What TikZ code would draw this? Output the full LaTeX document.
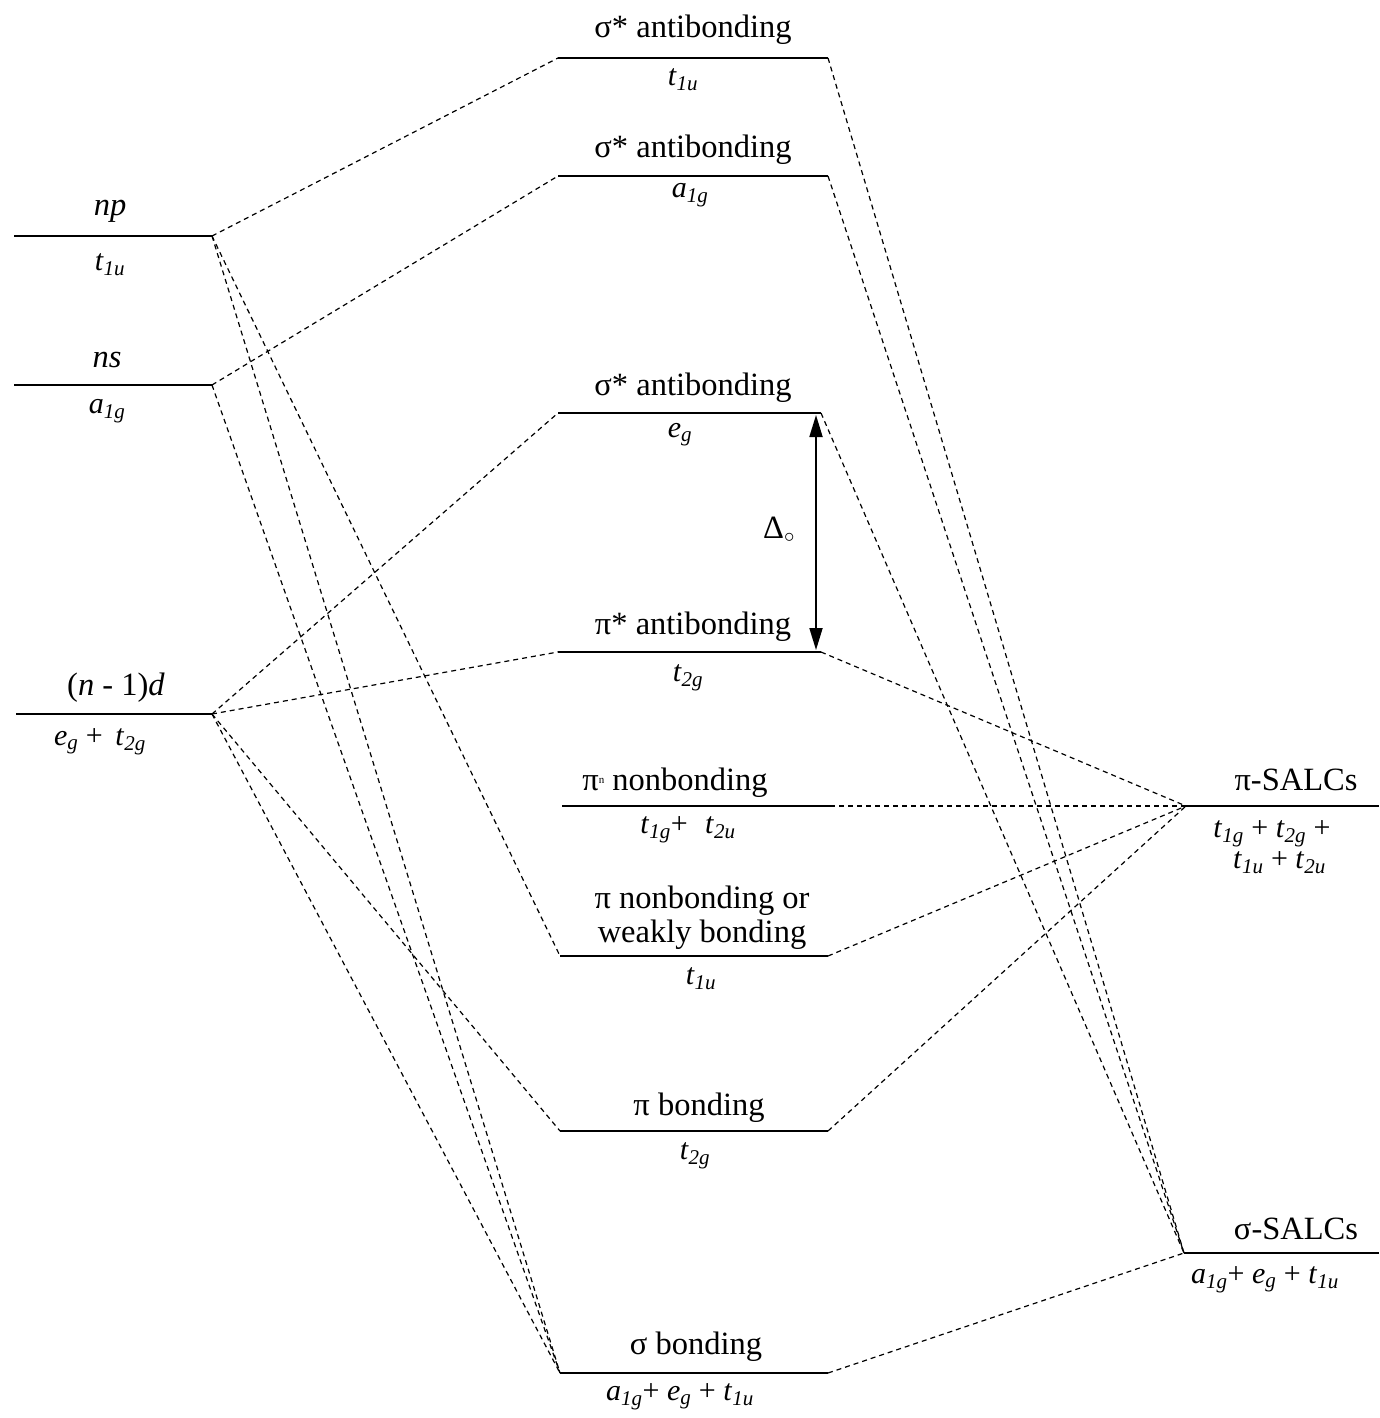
\documentclass[tikz,border=0pt]{standalone}
\usepackage{fontspec}
\setmainfont{Liberation Serif}
\usetikzlibrary{arrows.meta}
\newcommand\irr[2]{\textit{#1}\textsubscript{\textit{#2}}}
\begin{document}
\begin{tikzpicture}[x=1pt,y=-1pt,
  level/.style={line width=1.8pt},
  conn/.style={dash pattern=on 5pt off 4pt, line width=1.2pt},
  lbl/.style={font=\fontsize{32.5}{36}\selectfont, inner sep=0pt},
  sym/.style={font=\fontsize{30}{33}\selectfont, inner sep=0pt},
  gaparrow/.style={line width=1.8pt, {Triangle[length=22pt,width=13pt]}-{Triangle[length=22pt,width=13pt]}}]
\useasboundingbox[fill=white] (0,0) rectangle (1379,1418);
% level end points
\coordinate (npL) at (14,236);   \coordinate (npR) at (212,236);
\coordinate (nsL) at (14,385);   \coordinate (nsR) at (212,385);
\coordinate (dL)  at (16,714);   \coordinate (dR)  at (212,714);
\coordinate (s1L) at (558,58);   \coordinate (s1R) at (828,58);
\coordinate (s2L) at (558,176);  \coordinate (s2R) at (828,176);
\coordinate (s3L) at (558,413);  \coordinate (s3R) at (821,413);
\coordinate (p1L) at (558,652);  \coordinate (p1R) at (821,652);
\coordinate (pnL) at (562,806);  \coordinate (pnR) at (830,806);
\coordinate (pwL) at (560,956);  \coordinate (pwR) at (828,956);
\coordinate (pbL) at (560,1131); \coordinate (pbR) at (828,1131);
\coordinate (sbL) at (560,1373); \coordinate (sbR) at (828,1373);
\coordinate (psL) at (1186,806); \coordinate (psR) at (1379,806);
\coordinate (ssL) at (1184,1253);\coordinate (ssR) at (1379,1253);
% levels
\foreach \a in {np,ns,d,s1,s2,s3,p1,pn,pw,pb,sb,ps,ss}
  \draw[level] (\a L) -- (\a R);
% labels left
\node[lbl] (tnp) at (110,211) {\textit{np}};
\node[sym] (snp) at (110,265) {\irr{t}{1u}};
\node[lbl] (tns) at (107,360) {\textit{ns}};
\node[sym] (sns) at (107,411) {\irr{a}{1g}};
\node[lbl] (td)  at (116,688) {(\textit{n} - 1)\textit{d}};
\node[sym] (sd)  at (100,742) {\irr{e}{g} +\, \irr{t}{2g}};
% labels middle
\node[lbl] (ts1) at (693,30)  {σ* antibonding};
\node[sym] (ss1) at (683,80)  {\irr{t}{1u}};
\node[lbl] (ts2) at (693,150) {σ* antibonding};
\node[sym] (ss2) at (690,195) {\irr{a}{1g}};
\node[lbl] (ts3) at (693,388) {σ* antibonding};
\node[sym] (ss3) at (680,435) {\irr{e}{g}};
\node[lbl] (tp1) at (693,627) {π* antibonding};
\node[sym] (sp1) at (688,678) {\irr{t}{2g}};
\node[lbl] (tpn) at (675,783) {π{\fontsize{11}{11}\selectfont\raisebox{7pt}{n}} nonbonding};
\node[sym] (spn) at (688,830) {\irr{t}{1g}+\,\, \irr{t}{2u}};
\node[lbl,align=center] (tpw) at (702,918) {π nonbonding or\\[-2pt]weakly bonding};
\node[sym] (spw) at (701,979) {\irr{t}{1u}};
\node[lbl] (tpb) at (699,1108) {π bonding};
\node[sym] (spb) at (695,1156) {\irr{t}{2g}};
\node[lbl] (tsb) at (696,1347) {σ bonding};
\node[sym] (ssb) at (680,1397) {\irr{a}{1g}+ \irr{e}{g} + \irr{t}{1u}};
% labels right
\node[lbl] (tps) at (1296,780) {π-SALCs};
\node[sym,align=center] (sps) at (1272,847) {\irr{t}{1g} + \irr{t}{2g} +\\[-2pt]\ \ \irr{t}{1u} + \irr{t}{2u}};
\node[lbl] (tss) at (1296,1229) {σ-SALCs};
\node[sym] (sss) at (1265,1280) {\irr{a}{1g}+ \irr{e}{g} + \irr{t}{1u}};
% Delta_o
\coordinate (dtop) at (816,415);
\coordinate (dbot) at (816,650);
\draw[gaparrow] (dtop) -- (dbot);
\node[lbl] (delta) at (779,530) {Δ$_{\circ}$};
% connectors left
\draw[conn] (npR) -- (s1L);
\draw[conn] (npR) -- (pwL);
\draw[conn] (npR) -- (sbL);
\draw[conn] (nsR) -- (s2L);
\draw[conn] (nsR) -- (sbL);
\draw[conn] (dR) -- (s3L);
\draw[conn] (dR) -- (p1L);
\draw[conn] (dR) -- (pbL);
\draw[conn] (dR) -- (sbL);
% connectors right
\draw[conn] (s1R) -- (ssL);
\draw[conn] (s2R) -- (ssL);
\draw[conn] (s3R) -- (ssL);
\draw[conn] (p1R) -- (psL);
\draw[conn] (pnR) -- (psL);
\draw[conn] (pwR) -- (psL);
\draw[conn] (pbR) -- (psL);
\draw[conn] (sbR) -- (ssL);
\end{tikzpicture}
\end{document}
